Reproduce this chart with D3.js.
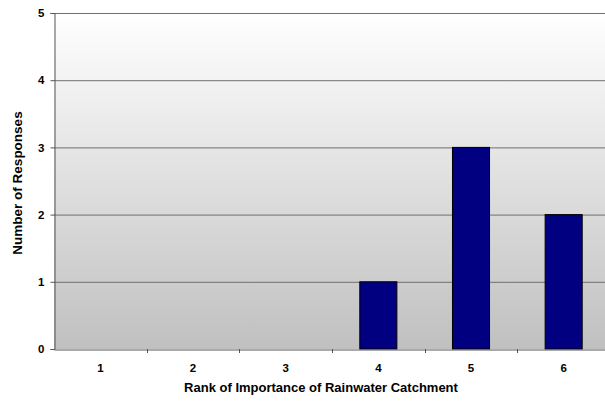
<!DOCTYPE html>
<html><head><meta charset="utf-8">
<script src="https://cdn.jsdelivr.net/npm/d3@7"></script>
<style>body{margin:0;background:#fff}svg{display:block;font-family:"Liberation Sans",Arial,sans-serif}</style>
</head><body><svg id="c" width="605" height="403"></svg>
<script>
const categories = ["1","2","3","4","5","6"];
const values = [0,0,0,1,3,2];
const yTicks = [0,1,2,3,4,5];

const svg = d3.select("#c");
const m = {l:54, t:13, b:349, r:610};
const x = d3.scaleBand().domain(categories).range([m.l, m.r]).paddingInner(0).paddingOuter(0);
const y = d3.scaleLinear().domain([0,5]).range([m.b, m.t]);

const defs = svg.append("defs");
const g = defs.append("linearGradient").attr("id","bg").attr("x1",0).attr("y1",0).attr("x2",0).attr("y2",1);
g.append("stop").attr("offset","0%").attr("stop-color","#ffffff");
g.append("stop").attr("offset","100%").attr("stop-color","#c0c0c0");

svg.append("rect").attr("x",m.l).attr("y",m.t).attr("width",m.r-m.l).attr("height",m.b-m.t).attr("fill","url(#bg)");

svg.append("g").selectAll("line").data(yTicks.filter(d=>d>0)).join("line")
  .attr("x1",m.l).attr("x2",m.r).attr("y1",d=>y(d)+0.5).attr("y2",d=>y(d)+0.5)
  .attr("stroke","#707070").attr("stroke-width",1);

const bw = x.bandwidth()*0.4;
svg.append("g").selectAll("rect").data(categories.map((c,i)=>({c,v:values[i]})).filter(d=>d.v>0)).join("rect")
  .attr("x",d=>x(d.c)+x.bandwidth()/2-bw/2).attr("width",bw)
  .attr("y",d=>y(d.v)).attr("height",d=>y(0)-y(d.v))
  .attr("fill","#000080").attr("stroke","#000").attr("stroke-width",1);

const ya = svg.append("g").attr("transform",`translate(${m.l+0.5},0)`)
  .call(d3.axisLeft(y).tickValues(yTicks).tickFormat(d3.format("d")).tickSize(4).tickPadding(6));
ya.select(".domain").attr("stroke","#555");
ya.selectAll(".tick line").attr("stroke","#555");
ya.selectAll("text").attr("font-size","11.5px").attr("font-weight","bold").attr("fill","#000");

const xa = svg.append("g").attr("transform",`translate(0,${m.b+0.5})`)
  .call(d3.axisBottom(x).tickSize(0).tickPadding(14));
xa.select(".domain").attr("stroke","#555");
xa.selectAll("text").attr("font-size","11.5px").attr("font-weight","bold").attr("fill","#000");
svg.append("g").selectAll("line").data(categories.slice(1)).join("line")
  .attr("x1",d=>Math.round(x(d))+0.5).attr("x2",d=>Math.round(x(d))+0.5)
  .attr("y1",m.b).attr("y2",m.b+4).attr("stroke","#555");

svg.append("text").attr("x",321).attr("y",392).attr("text-anchor","middle")
  .attr("font-size","13px").attr("font-weight","bold").text("Rank of Importance of Rainwater Catchment");
svg.append("text").attr("transform","translate(22,183) rotate(-90)").attr("text-anchor","middle")
  .attr("font-size","13.5px").attr("font-weight","bold").text("Number of Responses");
</script></body></html>
